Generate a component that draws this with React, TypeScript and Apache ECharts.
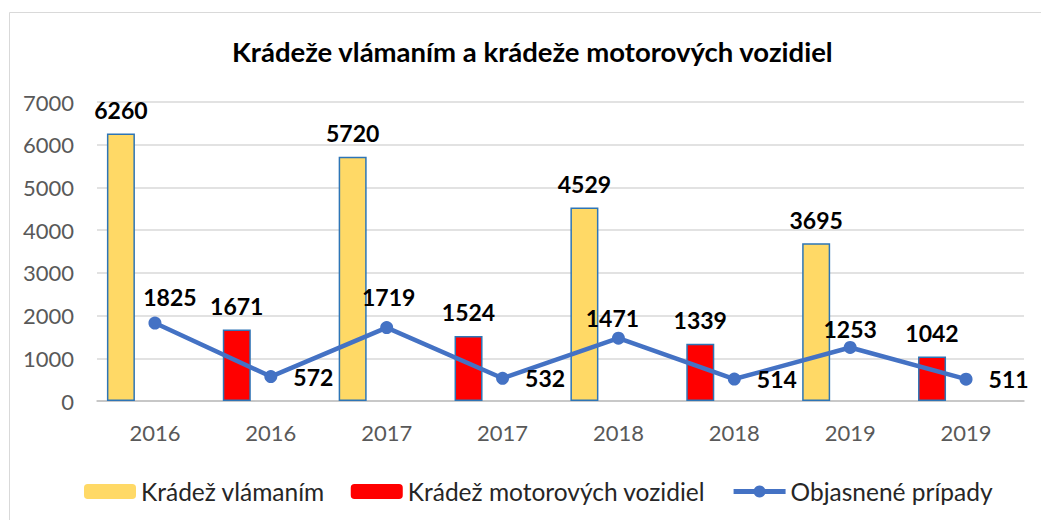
import React, { useEffect, useRef } from "react";
import * as echarts from "echarts";

const categories = ["2016", "2016", "2017", "2017", "2018", "2018", "2019", "2019"];
const burglary = [6260, null, 5720, null, 4529, null, 3695, null];
const vehicleTheft = [null, 1671, null, 1524, null, 1339, null, 1042];
const solved = [1825, 572, 1719, 532, 1471, 514, 1253, 511];
const yTicksMax = 7000;
const yTicksInterval = 1000;

// label placement styles for the line's data labels (not data)
const lineLabelOffset = [[15, 0], [0, 0], [2, -5], [0, 0], [-6, 6], [0, 0], [0, 8], [0, 0]];

const FONT = "Lato";

export default function App() {
  const ref = useRef<HTMLDivElement>(null);
  useEffect(() => {
    if (!ref.current) return;
    const chart = echarts.init(ref.current, null, { renderer: "svg" });
    const barLabel = {
      show: true,
      position: "top",
      distance: 12,
      fontFamily: FONT,
      fontWeight: "bold",
      fontSize: 23,
      color: "#000",
    };
    chart.setOption({
      animation: false,
      backgroundColor: "#fff",
      title: {
        text: "Krádeže vlámaním a krádeže motorových vozidiel",
        left: 227,
        top: 32,
        textStyle: { fontFamily: FONT, fontWeight: "bold", fontSize: 27.5, color: "#000" },
      },
      graphic: [
        {
          type: "rect",
          shape: { x: 9.5, y: 12.5, width: 1040, height: 520 },
          style: { fill: "none", stroke: "#d9d9d9", lineWidth: 1 },
          silent: true,
        },
      ],
      legend: {
        left: 79,
        top: 474,
        itemWidth: 52,
        itemHeight: 15,
        itemGap: 26,
        data: [
          { name: "Krádež vlámaním", itemStyle: { borderWidth: 0 } },
          { name: "Krádež motorových vozidiel", itemStyle: { borderWidth: 0 } },
          { name: "Objasnené prípady", lineStyle: { width: 5 } },
        ],
        textStyle: { fontFamily: FONT, fontSize: 24.5, color: "#262626" },
      },
      grid: { left: 97, right: 17, top: 102, bottom: 119 },
      xAxis: {
        type: "category",
        data: categories,
        axisTick: { show: false },
        axisLine: { lineStyle: { color: "#bfbfbf", width: 1.5 } },
        axisLabel: { fontFamily: FONT, fontSize: 22, color: "#595959", margin: 20 },
      },
      yAxis: {
        type: "value",
        min: 0,
        max: yTicksMax,
        interval: yTicksInterval,
        axisLine: { show: false },
        axisTick: { show: false },
        splitLine: { lineStyle: { color: "#d9d9d9", width: 1.5 } },
        axisLabel: {
          fontFamily: FONT,
          fontSize: 22,
          color: "#595959",
          margin: 23,
          formatter: (v: number) => String(v),
        },
      },
      series: [
        {
          name: "Krádež vlámaním",
          type: "bar",
          stack: "a",
          barWidth: 28,
          barGap: "143%",
          data: burglary,
          itemStyle: { color: "#FFD966", borderColor: "#2E75B6", borderWidth: 1.5 },
          label: barLabel,
        },
        {
          name: "Krádež motorových vozidiel",
          type: "bar",
          stack: "a",
          barWidth: 28,
          barGap: "143%",
          data: vehicleTheft,
          itemStyle: { color: "#FF0000", borderColor: "#2E75B6", borderWidth: 1.5 },
          label: barLabel,
        },
        {
          name: "spacer",
          type: "bar",
          stack: "b",
          barWidth: 28,
          barGap: "143%",
          data: categories.map(() => null),
          silent: true,
        },
        {
          name: "Objasnené prípady",
          type: "line",
          data: solved.map((v, i) => ({
            value: v,
            label: {
              position: i % 2 === 0 ? "top" : "right",
              distance: i % 2 === 0 ? 8 : 16,
              offset: lineLabelOffset[i],
            },
          })),
          symbol: "circle",
          symbolSize: 13,
          lineStyle: { color: "#4472C4", width: 4.5 },
          itemStyle: { color: "#4472C4" },
          label: {
            show: true,
            fontFamily: FONT,
            fontWeight: "bold",
            fontSize: 23,
            color: "#000",
          },
          z: 5,
        },
      ],
    });
    return () => chart.dispose();
  }, []);
  return (
    <div
      ref={ref}
      style={{ position: "fixed", left: 0, top: 0, width: 1041, height: 520 }}
    />
  );
}
